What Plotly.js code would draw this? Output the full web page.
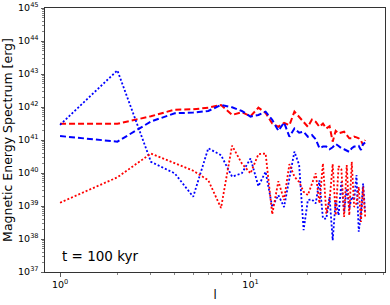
<!DOCTYPE html>
<html>
<head>
<meta charset="utf-8">
<script src="https://cdn.plot.ly/plotly-3.0.1.min.js"></script>
<style>html,body{margin:0;padding:0;background:#fff}#chart{width:390px;height:305px}</style>
</head>
<body>
<div id="chart"></div>
<script>
// Multipole degree l
const ell = [1,2,3,4,5,6,7,8,9,10,11,12,13,14,15,16,17,18,19,20,21,22,23,24,25,26,27,28,29,30,31,32,33,34,35,36,37,38,39,40];

// log10 of magnetic energy spectrum [erg]
const redDashedLog = [41.49,41.49,41.72,41.92,41.93,41.98,42.06,41.76,41.84,41.72,41.98,41.82,41.50,41.40,41.52,41.45,41.86,41.70,41.55,41.40,41.62,41.55,41.40,41.50,41.35,41.42,40.95,41.28,41.20,41.22,41.25,41.15,41.05,41.05,41.10,41.08,41.05,40.98,40.85,41.00];
const blueDashedLog = [41.12,40.95,41.56,41.81,41.83,41.88,42.06,41.99,41.88,41.71,41.76,41.86,41.61,41.28,41.53,41.10,41.35,41.22,41.25,41.10,41.15,41.02,40.75,40.80,40.80,40.72,40.78,40.88,40.82,40.75,40.72,40.68,40.64,40.75,40.80,40.80,40.82,40.70,40.88,40.92];
const blueDottedLog = [41.46,43.11,40.34,39.99,39.28,40.75,40.54,39.89,39.99,40.44,39.60,40.04,38.97,39.33,38.97,39.78,40.65,40.24,38.27,39.18,39.20,39.08,39.78,38.62,38.62,39.28,37.96,39.18,38.72,39.73,38.82,39.53,38.92,39.28,39.18,39.94,38.22,38.77,39.68,38.77];
const redDottedLog = [39.10,39.87,40.59,40.29,40.07,39.78,38.94,40.83,40.29,39.99,40.57,40.59,38.75,39.75,39.18,40.27,39.89,39.73,39.43,39.33,39.68,39.99,39.08,40.29,38.77,39.18,40.27,38.72,40.21,40.11,38.67,40.24,38.72,40.34,38.97,39.08,39.58,38.52,39.58,38.67];

const xTickVals = [1, 10];
const xTickText = ['10<sup>0</sup>', '10<sup>1</sup>'];
const yExponents = [37,38,39,40,41,42,43,44,45];

const pow = a => a.map(v => Math.pow(10, v));

const yTickVals = yExponents.map(e => Math.pow(10, e));
const yTickText = yExponents.map(e => '10<sup>' + e + '</sup>');

const xMinor = [];
for (let d = 0; d <= 1; d++) for (let k = 2; k <= 9; k++) xMinor.push(k * Math.pow(10, d));
const yMinor = [];
for (let e = 37; e < 45; e++) for (let k = 2; k <= 9; k++) yMinor.push(k * Math.pow(10, e));

const traces = [
  {x: ell, y: pow(redDashedLog), mode: 'lines', line: {color: '#ff0000', width: 2, dash: '6px,3px'}},
  {x: ell, y: pow(blueDashedLog), mode: 'lines', line: {color: '#0000ff', width: 2, dash: '6px,3px'}},
  {x: ell, y: pow(blueDottedLog), mode: 'lines', line: {color: '#0000ff', width: 1.8, dash: '2px,2px'}},
  {x: ell, y: pow(redDottedLog), mode: 'lines', line: {color: '#ff0000', width: 1.8, dash: '2px,2px'}}
];

const axisCommon = {
  type: 'log', showgrid: false, zeroline: false,
  showline: true, mirror: true, linecolor: '#333', linewidth: 1,
  ticks: 'outside', ticklen: 3.5, tickwidth: 0.8, tickcolor: '#333',
  tickfont: {family: 'DejaVu Sans', size: 9.5, color: '#000'},
  tickmode: 'array'
};

const layout = {
  width: 390, height: 305,
  margin: {l: 45, r: 5, t: 8, b: 33},
  paper_bgcolor: '#fff', plot_bgcolor: '#fff',
  showlegend: false,
  font: {family: 'DejaVu Sans', color: '#000'},
  xaxis: Object.assign({}, axisCommon, {
    range: [-0.079, 1.706],
    tickvals: xTickVals, ticktext: xTickText,
    minor: {tickmode: 'array', tickvals: xMinor, ticks: 'outside', ticklen: 2, tickwidth: 0.6, tickcolor: '#333', showgrid: false},
    title: {text: 'l', font: {family: 'DejaVu Sans', size: 11.5, color: '#000000'}, standoff: 2}
  }),
  yaxis: Object.assign({}, axisCommon, {
    range: [37, 45],
    tickvals: yTickVals, ticktext: yTickText,
    minor: {tickmode: 'array', tickvals: yMinor, ticks: 'outside', ticklen: 2, tickwidth: 0.6, tickcolor: '#333', showgrid: false},
    title: {text: 'Magnetic Energy Spectrum [erg]', font: {family: 'DejaVu Sans', size: 12.5, color: '#000'}, standoff: 3}
  }),
  annotations: [{
    text: 't = 100 kyr', xref: 'paper', yref: 'paper', x: 0.044, y: 0.06,
    xanchor: 'left', yanchor: 'middle', showarrow: false,
    font: {family: 'DejaVu Sans', size: 13.5, color: '#000'}
  }]
};

Plotly.newPlot('chart', traces, layout, {displayModeBar: false, staticPlot: true});
</script>
</body>
</html>
